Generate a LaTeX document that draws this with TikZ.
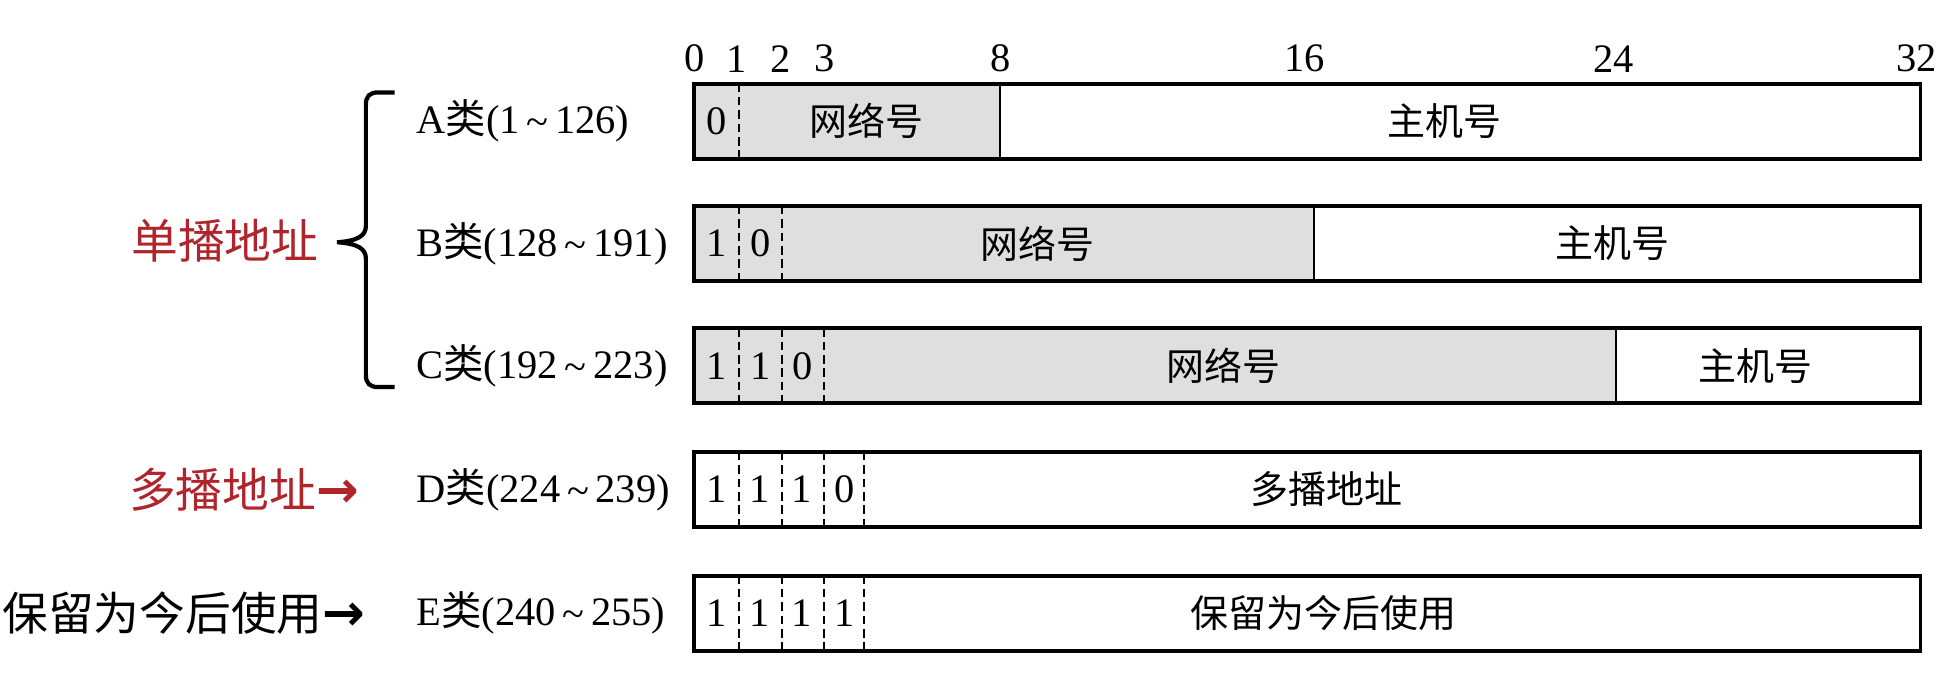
\documentclass[tikz,border=0pt]{standalone}
\usepackage{fontspec}
\setmainfont{Liberation Serif}
\newfontfamily\cjk{Noto Sans CJK SC}
\newfontfamily\arrfont{DejaVu Sans}
\usetikzlibrary{positioning}
\definecolor{netgray}{HTML}{DFDFDF}
\definecolor{castred}{HTML}{B0242B}
\newcommand{\lei}[3]{#1{\cjk 类}(#2\,\raisebox{-0.1ex}{\textasciitilde}\,#3)}
\newcommand{\toarr}{{\arrfont\bfseries\fontsize{14.5}{15}\selectfont →}}
\tikzset{
  frame/.style={line width=1.1pt},
  solidsep/.style={line width=0.6pt},
  dashsep/.style={line width=0.5pt,dash pattern=on 2.4pt off 1.4pt},
  bitlbl/.style={font=\fontsize{11.5}{12}\selectfont,inner sep=0pt},
  fieldlbl/.style={font=\cjk\fontsize{10.8}{12}\selectfont,inner sep=0pt},
  clslbl/.style={anchor=west,font=\fontsize{11.5}{12}\selectfont,inner sep=0pt},
  grplbl/.style={font=\cjk\fontsize{13.3}{14}\selectfont,inner sep=0pt}
}

\begin{document}
\begin{tikzpicture}[x=0.012487cm,y=-0.012487cm]
\useasboundingbox (0,0) rectangle (1568,552);
% bit scale
\foreach \b/\x in {0/556,1/590,2/625,3/660,8/801,16/1045,24/1292,32/1535}
  \node[bitlbl] (t\b) at (\x,47) {\b};

% class A
\fill[netgray] (556,67) rectangle (801,127);
\draw[dashsep] (592,67) -- (592,127);
\draw[solidsep] (801,67) -- (801,127);
\draw[frame] (556,67) rectangle (1538,127);
\node[bitlbl] (a0) at (574,97) {0};
\node[fieldlbl] (netA) at (694,97) {网络号};
\node[fieldlbl] (hostA) at (1157,97) {主机号};

% class B
\fill[netgray] (556,165) rectangle (1052,225);
\foreach \x in {592,626} \draw[dashsep] (\x,165) -- (\x,225);
\draw[solidsep] (1052,165) -- (1052,225);
\draw[frame] (556,165) rectangle (1538,225);
\node[bitlbl] (b0) at (574,195) {1};
\node[bitlbl] (b1) at (609,195) {0};
\node[fieldlbl] (netB) at (831,195) {网络号};
\node[fieldlbl] (hostB) at (1291,195) {主机号};

% class C
\fill[netgray] (556,263) rectangle (1294,323);
\foreach \x in {592,626,660} \draw[dashsep] (\x,263) -- (\x,323);
\draw[solidsep] (1294,263) -- (1294,323);
\draw[frame] (556,263) rectangle (1538,323);
\node[bitlbl] (c0) at (574,293) {1};
\node[bitlbl] (c1) at (609,293) {1};
\node[bitlbl] (c2) at (643,293) {0};
\node[fieldlbl] (netC) at (980,293) {网络号};
\node[fieldlbl] (hostC) at (1406,293) {主机号};

% class D
\foreach \x in {592,626,660,692} \draw[dashsep] (\x,362) -- (\x,422);
\draw[frame] (556,362) rectangle (1538,422);
\foreach \v [count=\i] in {1,1,1,0}
  \node[bitlbl] (d\i) at (540+34*\i,392) {\v};
\node[fieldlbl] (multD) at (1062,392) {多播地址};

% class E
\foreach \x in {592,626,660,692} \draw[dashsep] (\x,461) -- (\x,521);
\draw[frame] (556,461) rectangle (1538,521);
\foreach \v [count=\i] in {1,1,1,1}
  \node[bitlbl] (e\i) at (540+34*\i,491) {\v};
\node[fieldlbl] (resE) at (1060,491) {保留为今后使用};

% class names
\node[clslbl] (clsA) at (333,97) {\lei{A}{1}{126}};
\node[clslbl] (clsB) at (333,195) {\lei{B}{128}{191}};
\node[clslbl] (clsC) at (333,293) {\lei{C}{192}{223}};
\node[clslbl] (clsD) at (333,392) {\lei{D}{224}{239}};
\node[clslbl] (clsE) at (333,491) {\lei{E}{240}{255}};

% groups
\draw[line width=1.2pt] (316,74) -- (303,74) .. controls (296,74) and (293,77) .. (293,84)
  -- (293,181) .. controls (293,189) and (286,193) .. (270,194)
  .. controls (286,195) and (293,199) .. (293,207) -- (293,300)
  .. controls (293,307) and (296,310) .. (303,310) -- (316,310);
\node[grplbl,castred] (uni) at (180,193) {单播地址};
\node[grplbl,castred,anchor=east] (multi) at (288,392) {多播地址\toarr};
\node[grplbl,anchor=east,font=\cjk\fontsize{13}{14}\selectfont] (resv) at (293,491) {保留为今后使用\toarr};
\end{tikzpicture}
\end{document}
